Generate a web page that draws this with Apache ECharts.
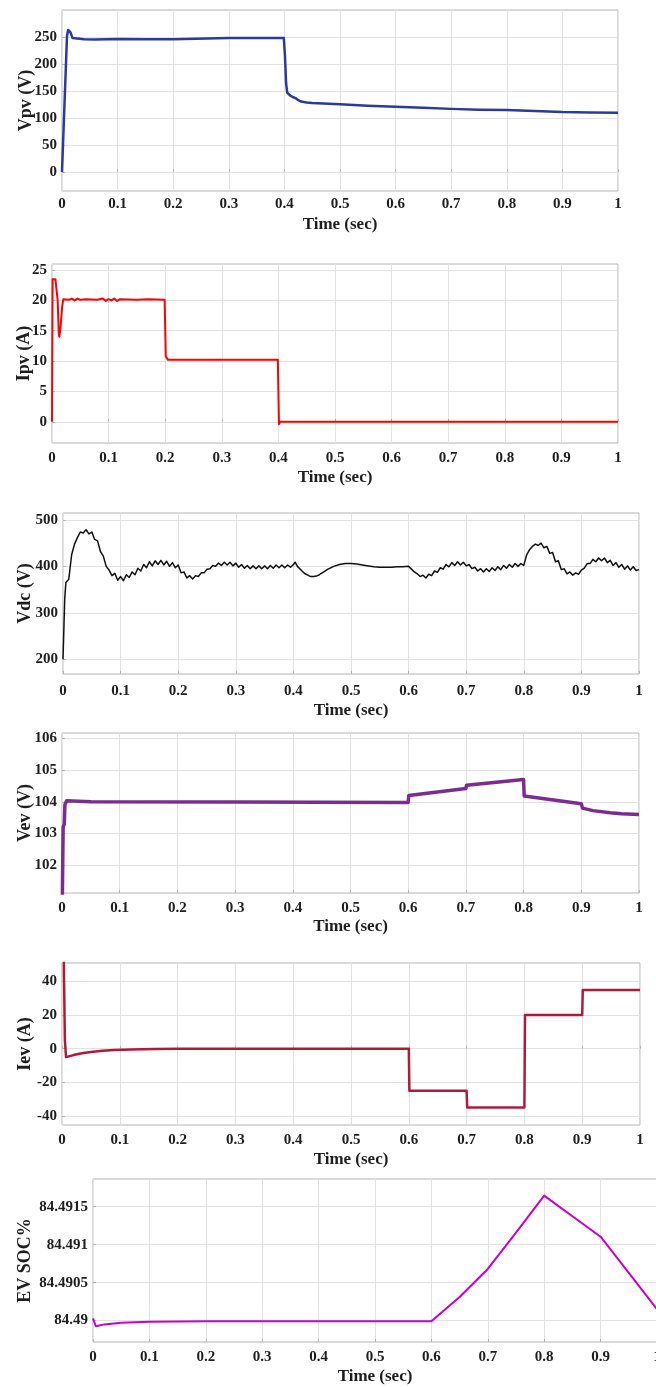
<!DOCTYPE html>
<html><head><meta charset="utf-8">
<script src="https://cdn.jsdelivr.net/npm/echarts@6/dist/echarts.min.js"></script>
<style>html,body{margin:0;padding:0;background:#fff}#c{width:656px;height:1387px}</style>
</head><body><div id="c"></div>
<script>
// ---------- data ----------
const timeTicks = [0, 0.1, 0.2, 0.3, 0.4, 0.5, 0.6, 0.7, 0.8, 0.9, 1];

const vpvTicks = [0, 50, 100, 150, 200, 250];
const vpv = [[0,0],[0.009,252],[0.011,263],[0.013,264],[0.015,259],[0.017,258],[0.019,248],[0.021,246],
  [0.04,246],[0.06,245.5],[0.1,246.5],[0.15,246],[0.2,246],[0.203,248],[0.3,248],[0.399,248],
  [0.401,215],[0.403,165],[0.405,147],[0.41,142],[0.415,139],[0.42,137],[0.425,133],[0.43,130.5],
  [0.44,128.8],[0.45,128],[0.5,125.5],[0.55,123],[0.6,121],[0.65,119],[0.7,117],[0.75,115.5],
  [0.8,115],[0.85,113],[0.9,111],[0.95,110.5],[1.0,110]];

const ipvTicks = [0, 5, 10, 15, 20, 25];
const ipv = [[0,0],[0.001,23.5],[0.006,23.5],[0.008,23.2],[0.01,20],[0.012,14.5],[0.013,14],
  [0.015,15.5],[0.016,15.6],[0.018,19],[0.02,20.2],[0.03,20.1],[0.035,20.3],[0.04,20.0],[0.045,20.3],
  [0.05,20.1],[0.06,20.2],[0.08,20.1],[0.09,20.3],[0.095,19.9],[0.1,20.2],[0.105,20.0],[0.11,20.3],
  [0.115,19.9],[0.12,20.2],[0.15,20.1],[0.17,20.2],[0.199,20.1],[0.201,10.8],[0.205,10.2],
  [0.3,10.2],[0.399,10.2],[0.401,-0.4],[0.403,0],[1,0]];

const vdcTicks = [200, 300, 400, 500];
const vdc = [[0,200],[0.003,330],[0.005,365],[0.01,372],[0.015,425],[0.02,448],[0.025,462],[0.03,474],
  [0.035,472],[0.04,479],[0.045,470],[0.05,474],[0.055,458],[0.06,455],[0.065,432],[0.07,422],
  [0.075,400],[0.08,392],[0.085,380],[0.09,385],[0.095,370],[0.1,378],[0.105,369],[0.11,382],
  [0.115,376],[0.12,388],[0.125,382],[0.13,396],[0.135,390],[0.14,404],[0.145,397],[0.15,410],
  [0.155,401],[0.16,412],[0.165,404],[0.17,413],[0.175,403],[0.18,411],[0.185,400],[0.19,408],
  [0.195,397],[0.2,403],[0.205,386],[0.21,388],[0.215,375],[0.22,380],[0.225,373],[0.23,380],
  [0.235,378],[0.24,386],[0.245,386],[0.25,394],[0.255,395],[0.26,402],[0.265,400],[0.27,407],
  [0.275,402],[0.28,409],[0.285,403],[0.29,409],[0.295,401],[0.3,407],[0.305,398],[0.31,404],
  [0.315,396],[0.32,402],[0.325,395],[0.33,401],[0.335,395],[0.34,401],[0.345,395],[0.35,401],
  [0.355,395],[0.36,402],[0.365,396],[0.37,403],[0.375,397],[0.38,403],[0.385,397],[0.39,403],
  [0.395,398],[0.4,404],[0.403,409],[0.407,400],[0.41,396],[0.415,390],[0.42,384],[0.425,381],
  [0.43,378],[0.435,378],[0.44,379],[0.445,382],[0.45,386],[0.46,394],[0.47,400],[0.48,404],
  [0.49,406],[0.5,406],[0.51,405],[0.52,403],[0.53,401],[0.54,399],[0.55,398],[0.56,398],
  [0.57,398],[0.58,399],[0.59,399],[0.6,400],[0.605,394],[0.61,388],[0.615,384],[0.62,378],
  [0.625,381],[0.63,375],[0.635,383],[0.64,380],[0.645,390],[0.65,387],[0.655,397],[0.66,394],
  [0.665,404],[0.67,399],[0.675,408],[0.68,402],[0.685,410],[0.69,403],[0.695,409],[0.7,401],
  [0.705,404],[0.71,395],[0.715,398],[0.72,390],[0.725,395],[0.73,388],[0.735,395],[0.74,389],
  [0.745,397],[0.75,391],[0.755,399],[0.76,393],[0.765,402],[0.77,396],[0.775,404],[0.78,398],
  [0.785,406],[0.79,400],[0.795,406],[0.8,402],[0.805,425],[0.81,436],[0.815,443],[0.82,448],
  [0.825,445],[0.83,450],[0.835,440],[0.84,443],[0.845,428],[0.85,430],[0.855,410],[0.86,412],
  [0.865,393],[0.87,395],[0.875,384],[0.88,388],[0.885,381],[0.89,386],[0.895,383],[0.9,392],
  [0.905,396],[0.91,406],[0.915,406],[0.92,415],[0.925,410],[0.93,418],[0.935,412],[0.94,418],
  [0.945,408],[0.95,413],[0.955,402],[0.96,408],[0.965,398],[0.97,404],[0.975,394],[0.98,401],
  [0.985,392],[0.99,399],[0.995,391],[1,393]];

const vevTicks = [102, 103, 104, 105, 106];
const vev = [[0,100],[0.002,103.2],[0.004,103.3],[0.005,103.9],[0.008,104.03],[0.05,104.0],
  [0.3,103.99],[0.6,103.98],[0.601,104.2],[0.7,104.42],[0.701,104.52],[0.8,104.7],[0.801,104.18],
  [0.9,103.94],[0.902,103.8],[0.92,103.72],[0.95,103.65],[0.97,103.62],[1.0,103.6]];

const ievTicks = [-40, -20, 0, 20, 40];
const iev = [[0,60],[0.003,55],[0.005,5],[0.007,-5],[0.01,-4.6],[0.02,-3.8],[0.03,-3],[0.04,-2.4],
  [0.05,-1.9],[0.07,-1.2],[0.09,-0.8],[0.12,-0.4],[0.16,-0.2],[0.2,-0.1],[0.3,0],[0.6,0],
  [0.601,-25],[0.7,-25],[0.701,-35],[0.8,-35],[0.801,20],[0.9,20],[0.901,35],[1,35]];

const socTicks = [84.49, 84.4905, 84.491, 84.4915];
const soc = [[0,84.49003],[0.005,84.489925],[0.02,84.48995],[0.05,84.48997],[0.1,84.489985],
  [0.2,84.48999],[0.6,84.48999],[0.65,84.49031],[0.7,84.49068],[0.75,84.49116],[0.8,84.491646],
  [0.85,84.491375],[0.9,84.491105],[0.95,84.49063],[1.0,84.49015]];

// ---------- layout / style ----------
const panels = [
  {name:'Vpv (V)', data:vpv, ticks:vpvTicks, min:-35, max:300, color:'#2b3a9c', lw:2.5,
   grid:{left:62, top:10, width:556, height:181}, yGap:27, xMargin:6, tGap:25},
  {name:'Ipv (A)', data:ipv, ticks:ipvTicks, min:-3.5, max:26, color:'#ff0000', lw:2,
   grid:{left:52, top:264, width:566, height:179}, yGap:19, xMargin:8, tGap:26},
  {name:'Vdc (V)', data:vdc, ticks:vdcTicks, min:168, max:515, color:'#111111', lw:1.5,
   grid:{left:63, top:513, width:576, height:161}, yGap:29, xMargin:10, tGap:28},
  {name:'Vev (V)', data:vev, ticks:vevTicks, min:101.12, max:106.17, color:'#7b2c90', lw:3.5,
   grid:{left:62, top:733, width:577, height:160}, yGap:28, xMargin:8, tGap:25},
  {name:'Iev (A)', data:iev, ticks:ievTicks, min:-45.4, max:51, color:'#b01a3a', lw:2.5,
   grid:{left:62, top:963, width:578, height:162}, yGap:28, xMargin:8, tGap:26},
  {name:'EV SOC%', data:soc, ticks:socTicks, min:84.489718, max:84.491865, color:'#c800c8', lw:2,
   grid:{left:93, top:1179, width:564, height:163}, yGap:59, xMargin:8, tGap:26}
];

const FONT = 'Liberation Serif, Times New Roman, serif';
const txt = '#1e1e1e';
const option = {
  animation:false, backgroundColor:'#ffffff',
  grid:[], xAxis:[], yAxis:[], series:[]
};
panels.forEach((p, i) => {
  option.grid.push(Object.assign({show:true, borderColor:'#b4b4b4', borderWidth:1,
    outerBoundsMode:'none', containLabel:false}, p.grid));
  option.xAxis.push({
    type:'value', gridIndex:i, min:0, max:1, interval:0.1,
    name:'Time (sec)', nameLocation:'middle', nameGap:p.tGap, nameMoveOverlap:false,
    nameTextStyle:{fontFamily:FONT, fontWeight:'bold', fontSize:17, color:txt},
    axisLine:{show:false}, axisTick:{show:true, inside:true, length:3, lineStyle:{color:'#b4b4b4'}},
    axisLabel:{fontFamily:FONT, fontWeight:'bold', fontSize:15, color:txt, margin:p.xMargin,
      customValues: timeTicks},
    splitLine:{show:true, lineStyle:{color:'#e2e2e2', width:1}}
  });
  option.yAxis.push({
    type:'value', gridIndex:i, min:p.min, max:p.max,
    name:p.name, nameLocation:'middle', nameGap:p.yGap, nameMoveOverlap:false,
    nameTextStyle:{fontFamily:FONT, fontWeight:'bold', fontSize:18, color:txt},
    axisLine:{show:false},
    axisTick:{show:true, inside:true, length:3, lineStyle:{color:'#b4b4b4'}, customValues:p.ticks},
    axisLabel:{fontFamily:FONT, fontWeight:'bold', fontSize:15, color:txt, margin:5, customValues:p.ticks},
    splitLine:{show:true, lineStyle:{color:'#e2e2e2', width:1}}
  });
  option.series.push({
    type:'line', xAxisIndex:i, yAxisIndex:i, data:p.data, showSymbol:false, symbol:'none',
    clip:true, lineStyle:{color:p.color, width:p.lw, join:'round'}, silent:true
  });
});
echarts.init(document.getElementById('c'), null, {renderer:'canvas'}).setOption(option);
</script></body></html>
